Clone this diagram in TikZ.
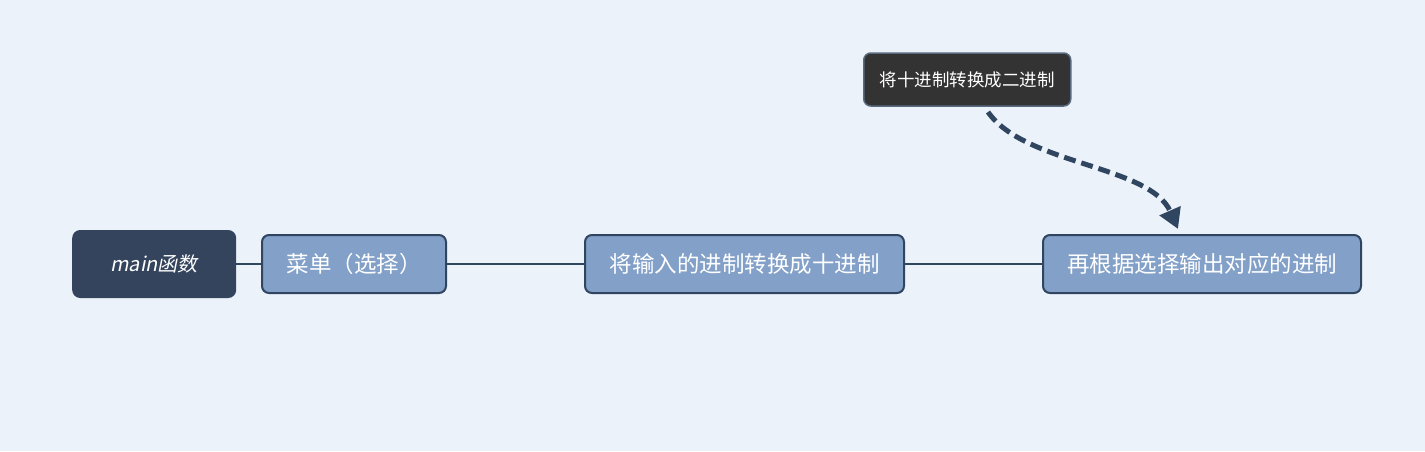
\documentclass[tikz,border=0pt]{standalone}
\usepackage{fontspec}
\newfontfamily\cjk{Noto Sans CJK SC}
\newfontfamily\cjkit[FakeSlant=0.2]{Noto Sans CJK SC}
\usetikzlibrary{arrows.meta,calc}
\definecolor{bg}{HTML}{EBF2FA}
\definecolor{darknode}{HTML}{34445C}
\definecolor{bluenode}{HTML}{82A0C8}
\definecolor{edge}{HTML}{2F4560}
\definecolor{callfill}{HTML}{333333}
\tikzset{
  topic/.style={draw=edge, line width=2pt, fill=bluenode, rounded corners=7pt,
    text=white, font=\cjk\fontsize{22.5}{26}\selectfont, minimum height=58pt, inner sep=0pt, anchor=west},
  rootnode/.style={fill=darknode, rounded corners=8pt, text=white,
    font=\cjkit\fontsize{20}{24}\selectfont, minimum height=68pt, minimum width=164pt, inner sep=0pt, anchor=west},
  callout/.style={draw=edge!80, line width=1.5pt, fill=callfill, rounded corners=7pt, text=white,
    font=\cjk\fontsize{17.5}{20}\selectfont, minimum height=53pt, minimum width=207pt, inner sep=0pt, anchor=west},
  link/.style={draw=edge, line width=2pt},
  dasharrow/.style={draw=edge, line width=5pt, dash pattern=on 12pt off 6pt,
    -{Triangle[length=20pt,width=22pt]}},
}
\begin{document}
\begin{tikzpicture}[x=1pt,y=-1pt]
\fill[bg] (0,0) rectangle (1425,451);
\useasboundingbox (0,0) rectangle (1425,451);
\node[rootnode] (main) at (72,264) {main函数};
\node[topic, minimum width=184pt] (menu) at (261,264) {菜单（选择）};
\node[topic, minimum width=319pt] (conv) at (584,264) {将输入的进制转换成十进制};
\node[topic, minimum width=318pt] (out) at (1042,264) {再根据选择输出对应的进制};
\node[callout] (note) at (863,79.5) {将十进制转换成二进制};
\draw[link] (main.east) -- (menu.west);
\draw[link] (menu.east) -- (conv.west);
\draw[link] (conv.east) -- (out.west);
\coordinate (s) at (988,112);
\coordinate (e) at (1178,229);
\draw[dasharrow] (s) .. controls (1025,165) and (1150,165) .. (e);
\end{tikzpicture}
\end{document}
